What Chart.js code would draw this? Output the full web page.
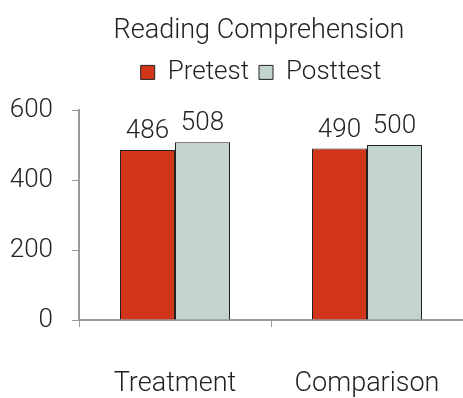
<!DOCTYPE html>
<html>
<head>
<meta charset="utf-8">
<script src="https://cdn.jsdelivr.net/npm/chart.js@4"></script>
<style>
html,body{margin:0;padding:0;background:#fff;overflow:hidden;}
canvas{display:block;}
</style>
</head>
<body>
<canvas id="c" width="463" height="398" style="width:463px;height:398px;"></canvas>
<script>
const categories = ["Treatment", "Comparison"];
const pretest = [486, 490];
const posttest = [508, 500];
const seriesNames = ["Pretest", "Posttest"];
const yTicks = [0, 200, 400, 600];
const chartTitle = "Reading Comprehension";

const FONT = "Roboto";

const valueLabels = {
  id: 'valueLabels',
  afterDatasetsDraw(chart) {
    const ctx = chart.ctx;
    ctx.save();
    ctx.font = "300 26px " + FONT;
    ctx.fillStyle = "#222";
    ctx.textAlign = "center";
    ctx.textBaseline = "alphabetic";
    chart.data.datasets.forEach((ds, i) => {
      const meta = chart.getDatasetMeta(i);
      meta.data.forEach((bar, j) => {
        ctx.fillText(String(ds.data[j]), bar.x, bar.y - 12);
      });
    });
    ctx.restore();
  }
};

// empty layout box: gap between legend and plot area
const spacer = {
  id: 'spacer',
  beforeInit(chart) {
    const box = {
      position: 'top', weight: 0, fullSize: false, options: {},
      isHorizontal() { return true; },
      update(maxWidth) { this.width = maxWidth; this.height = 14.6; },
      getPadding() { return { top: 0, left: 0, right: 0, bottom: 0 }; },
      draw() {}
    };
    Chart.layouts.addBox(chart, box);
  }
};

// nudge title & legend horizontally to match the reference's centring
const headerShift = {
  id: 'headerShift',
  afterLayout(chart) {
    if (chart.titleBlock) { chart.titleBlock.left -= 12; chart.titleBlock.right -= 12; }
    if (chart.legend) { chart.legend.left -= 10; chart.legend.right -= 10; }
  }
};

new Chart(document.getElementById('c'), {
  type: 'bar',
  data: {
    labels: categories,
    datasets: [
      { label: seriesNames[0], data: pretest, backgroundColor: '#D2361A', borderColor: '#222', borderWidth: 1, barPercentage: 1.0, categoryPercentage: 0.573 },
      { label: seriesNames[1], data: posttest, backgroundColor: '#C3D3CD', borderColor: '#222', borderWidth: 1, barPercentage: 1.0, categoryPercentage: 0.573 }
    ]
  },
  options: {
    responsive: false,
    maintainAspectRatio: false,
    animation: false,
    devicePixelRatio: 1,
    layout: { padding: { left: 0, right: 0, top: 0, bottom: 0 } },
    plugins: {
      title: {
        display: true,
        text: chartTitle,
        fullSize: false,
        color: '#222',
        font: { family: FONT, size: 27, weight: 300 },
        padding: { top: 15, bottom: 2 }
      },
      legend: {
        display: true,
        fullSize: false,
        labels: {
          color: '#222',
          font: { family: FONT, size: 26, weight: 300 },
          boxWidth: 14,
          boxHeight: 14,
          padding: 10
        }
      },
      tooltip: { enabled: false }
    },
    scales: {
      x: {
        afterFit(scale) { scale.height = 78; scale.paddingLeft = 0; scale.paddingRight = 0; },
        grid: { display: true, drawOnChartArea: false, offset: true, tickLength: 7, color: '#999' },
        border: { display: true, color: '#999', width: 2 },
        ticks: { color: '#222', font: { family: FONT, size: 27, weight: 300 }, padding: 41, maxRotation: 0 }
      },
      y: {
        min: 0, max: 600,
        afterBuildTicks(axis) { axis.ticks = yTicks.map(v => ({ value: v })); },
        afterFit(scale) { scale.width = 79; },
        grid: { display: true, drawOnChartArea: false, tickLength: 7, color: '#999' },
        border: { display: true, color: '#999', width: 2 },
        ticks: { color: '#222', font: { family: FONT, size: 26, weight: 300 }, padding: 19 }
      }
    }
  },
  plugins: [spacer, valueLabels, headerShift]
});
</script>
</body>
</html>
